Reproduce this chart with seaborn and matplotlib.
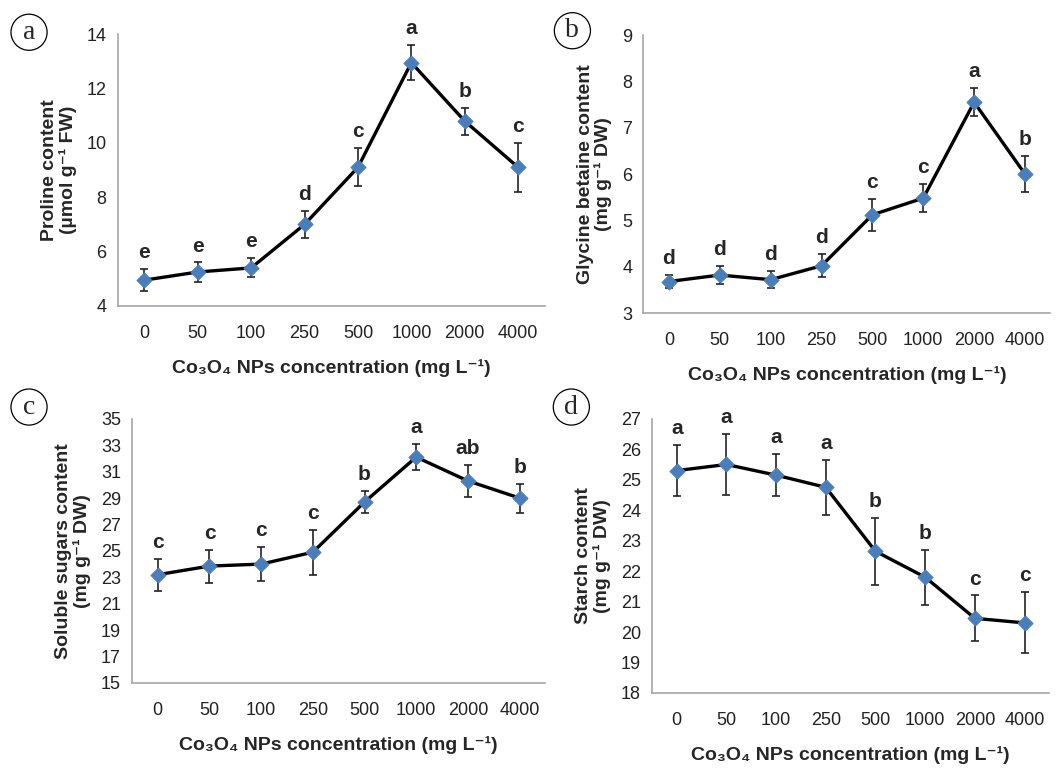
import numpy as np
import pandas as pd
import matplotlib
matplotlib.use("Agg")
import matplotlib.pyplot as plt
import seaborn as sns

# categories (x axis)
concentrations = ["0", "50", "100", "250", "500", "1000", "2000", "4000"]

# panel a: proline
proline = [4.95, 5.25, 5.4, 7.0, 9.1, 12.95, 10.8, 9.1]
proline_err = [0.4, 0.35, 0.35, 0.5, 0.7, 0.65, 0.5, 0.9]
proline_letters = ["e", "e", "e", "d", "c", "a", "b", "c"]

# panel b: glycine betaine
glycine = [3.68, 3.82, 3.72, 4.02, 5.12, 5.48, 7.55, 6.0]
glycine_err = [0.15, 0.2, 0.18, 0.25, 0.35, 0.3, 0.3, 0.38]
glycine_letters = ["d", "d", "d", "d", "c", "c", "a", "b"]

# panel c: soluble sugars
sugars = [23.2, 23.85, 24.0, 24.9, 28.7, 32.1, 30.3, 29.0]
sugars_err = [1.2, 1.25, 1.3, 1.7, 0.8, 1.0, 1.2, 1.1]
sugars_letters = ["c", "c", "c", "c", "b", "a", "ab", "b"]

# panel d: starch
starch = [25.3, 25.5, 25.15, 24.75, 22.65, 21.8, 20.45, 20.3]
starch_err = [0.85, 1.0, 0.7, 0.9, 1.1, 0.9, 0.75, 1.0]
starch_letters = ["a", "a", "a", "a", "b", "b", "c", "c"]

sns.set_style("white")
plt.rcParams["font.family"] = ["Liberation Sans", "DejaVu Sans"]

fig = plt.figure(figsize=(10.6, 7.68), dpi=100)

panels = [
    ("a", proline, proline_err, proline_letters,
     "Proline content\n(µmol g⁻¹ FW)", (4, 14), np.arange(4, 15, 2),
     [0.111, 0.6016, 0.403, 0.354]),
    ("b", glycine, glycine_err, glycine_letters,
     "Glycine betaine content\n(mg g⁻¹ DW)", (3, 9), np.arange(3, 10, 1),
     [0.607, 0.5924, 0.384, 0.362]),
    ("c", sugars, sugars_err, sugars_letters,
     "Soluble sugars content\n(mg g⁻¹ DW)", (15, 35), np.arange(15, 36, 2),
     [0.1245, 0.1107, 0.39, 0.344]),
    ("d", starch, starch_err, starch_letters,
     "Starch content\n(mg g⁻¹ DW)", (18, 27), np.arange(18, 28, 1),
     [0.615, 0.0977, 0.375, 0.357]),
]

label_pos = {"a": (0.0274, 0.958), "b": (0.540, 0.960), "c": (0.0274, 0.470), "d": (0.539, 0.470)}

for name, vals, errs, letters, ylabel, ylim, yticks, rect in panels:
    ax = fig.add_axes(rect)
    df = pd.DataFrame({"pos": np.arange(len(concentrations)), "value": vals, "err": errs})
    sns.lineplot(data=df, x="pos", y="value", ax=ax, color="black", linewidth=2.4, zorder=2)
    ax.errorbar(df["pos"], df["value"], yerr=df["err"], fmt="none", ecolor="#222222",
                elinewidth=1.2, capsize=3, capthick=1.2, zorder=3)
    sns.scatterplot(data=df, x="pos", y="value", ax=ax, marker="D", s=60,
                    color="#4A7EBB", edgecolor="#4A7EBB", zorder=4)
    # significance letters just above the error bar caps
    for p, v, e, l in zip(df["pos"], vals, errs, letters):
        ax.annotate(l, (p, v + e), xytext=(0, 5), textcoords="offset points",
                    ha="center", va="bottom", fontsize=15, fontweight="bold")

    ax.set_xlim(-0.5, len(concentrations) - 0.5)
    ax.set_ylim(*ylim)
    ax.set_yticks(yticks)
    ax.set_xticks(np.arange(len(concentrations)))
    ax.set_xticklabels(concentrations)
    ax.set_xticks(np.arange(-0.5, len(concentrations)), minor=True)
    ax.tick_params(axis="x", which="major", length=0, pad=14, labelsize=13, colors="#222222")
    ax.tick_params(axis="x", which="minor", length=5, color="#A6A6A6", direction="out")
    ax.tick_params(axis="y", length=5, color="#A6A6A6", labelsize=13, colors="#222222", pad=3)
    ax.tick_params(axis="y", direction="out")
    for s in ["top", "right"]:
        ax.spines[s].set_visible(False)
    for s in ["left", "bottom"]:
        ax.spines[s].set_color("#A6A6A6")
        ax.spines[s].set_linewidth(1.2)
    ax.set_xlabel("Co₃O₄ NPs concentration (mg L⁻¹)", fontsize=14, fontweight="bold", labelpad=12)
    ax.set_ylabel(ylabel, fontsize=14, fontweight="bold", labelpad=7, linespacing=1.05)

    lx, ly = label_pos[name]
    fig.text(lx, ly, name, fontsize=20, family=["Liberation Serif", "DejaVu Serif"],
             ha="center", va="center",
             bbox=dict(boxstyle="circle,pad=0.2", fc="white", ec="black", lw=0.9))

fig.savefig("out.png", dpi=100)
